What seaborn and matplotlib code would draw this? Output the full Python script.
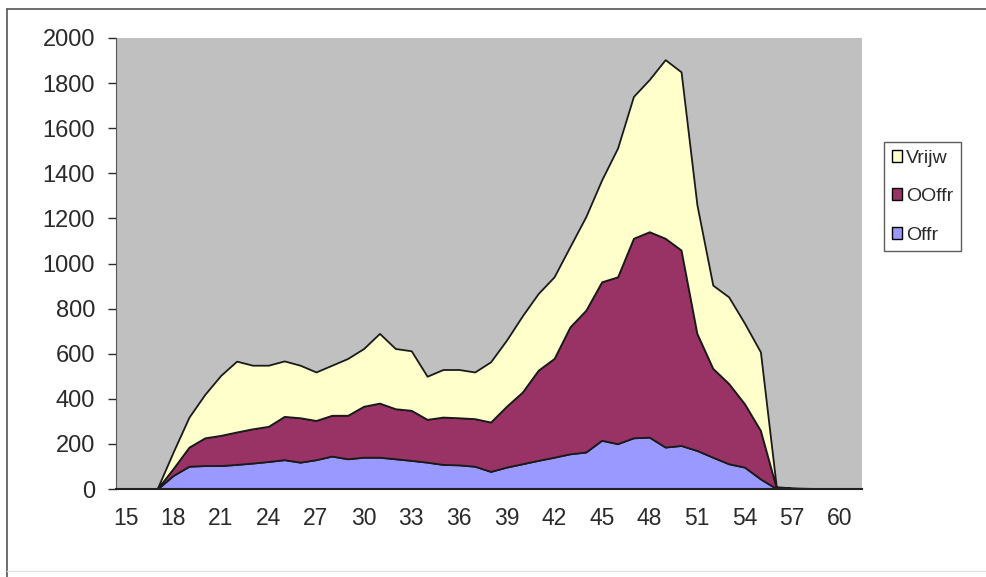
import matplotlib
matplotlib.use("Agg")
import matplotlib.pyplot as plt
import seaborn as sns
import pandas as pd
from matplotlib.patches import Patch
from matplotlib.lines import Line2D

# ---- data ----
ages = list(range(15, 62))
offr = [0, 0, 0, 60, 101, 104, 104, 109, 115, 122, 130, 119, 130, 146, 134, 141,
        141, 134, 127, 119, 109, 107, 101, 78, 97, 112, 127, 141, 156, 164, 216,
        201, 227, 230, 186, 193, 171, 141, 112, 97, 45, 2, 1, 0, 0, 0, 0]
ooffr = [0, 0, 1, 31, 85, 123, 134, 144, 152, 156, 192, 197, 174, 181, 193, 226,
         240, 222, 222, 190, 210, 209, 211, 219, 270, 318, 400, 438, 563, 629, 703,
         740, 885, 911, 926, 867, 519, 394, 356, 281, 215, 4, 2, 2, 1, 1, 0]
vrijw = [0, 0, 1, 73, 133, 193, 266, 314, 282, 271, 246, 233, 215, 222, 252, 256,
         309, 267, 264, 191, 211, 214, 207, 267, 293, 338, 340, 362, 356, 415, 452,
         571, 629, 675, 792, 790, 570, 369, 384, 357, 348, 4, 2, 1, 1, 0, 0]
series_names = ["Offr", "OOffr", "Vrijw"]
colors = ["#9999FF", "#993366", "#FFFFCC"]
xticks = list(range(15, 61, 3))
yticks = list(range(0, 2001, 200))

df = pd.DataFrame({"age": ages, "Offr": offr, "OOffr": ooffr, "Vrijw": vrijw})

sns.set_style("white")
plt.rcParams["font.family"] = ["Liberation Sans", "DejaVu Sans"]

fig = plt.figure(figsize=(9.87, 5.77), dpi=100)
ax = fig.add_axes([116 / 987, 1 - 489 / 577, (862 - 116) / 987, (489 - 38) / 577])
ax.set_facecolor("#C0C0C0")

ax.stackplot(df["age"], df["Offr"], df["OOffr"], df["Vrijw"],
             colors=colors, edgecolor="#1a1a1a", linewidth=1.3,
             labels=series_names)

ax.set_xlim(14.4, 61.4)
ax.set_ylim(0, 2000)
ax.set_xticks(xticks)
ax.set_xticklabels([str(t) for t in xticks])
ax.set_yticks(yticks)
ax.tick_params(axis="x", length=0, pad=13, labelsize=16.5, colors="#2a2a2a")
ax.tick_params(axis="y", length=6, width=1, direction="out", pad=9,
               labelsize=17, colors="#2a2a2a", left=True)
for s in ["top", "right"]:
    ax.spines[s].set_visible(False)
ax.spines["left"].set_color("#555555")
ax.spines["bottom"].set_color("#222222")
ax.spines["bottom"].set_linewidth(1.5)
ax.set_xlabel("")
ax.set_ylabel("")

handles = [Patch(facecolor=c, edgecolor="black", linewidth=1) for c in colors[::-1]]
leg = fig.legend(handles, series_names[::-1], loc="upper left",
                 bbox_to_anchor=(884 / 987, 1 - 142 / 577),
                 frameon=True, fancybox=False, edgecolor="#333333",
                 fontsize=14, handlelength=0.55, handleheight=0.55,
                 handletextpad=0.2, labelspacing=1.1, borderpad=0.4,
                 borderaxespad=0)
leg.get_frame().set_linewidth(1)
for t in leg.get_texts():
    t.set_color("#2a2a2a")

# outer chart frame (top and left dark, bottom faint)
fig.lines.append(Line2D([7.5 / 987, 1.0], [1 - 8.5 / 577, 1 - 8.5 / 577],
                        transform=fig.transFigure, color="#555555", linewidth=1.2))
fig.lines.append(Line2D([7.5 / 987, 7.5 / 987], [0.0, 1 - 8.5 / 577],
                        transform=fig.transFigure, color="#555555", linewidth=1.2))
fig.lines.append(Line2D([7.5 / 987, 1.0], [1 - 571 / 577, 1 - 571 / 577],
                        transform=fig.transFigure, color="#e2e2e2", linewidth=1))

fig.savefig("out.png", dpi=100, facecolor="white")
